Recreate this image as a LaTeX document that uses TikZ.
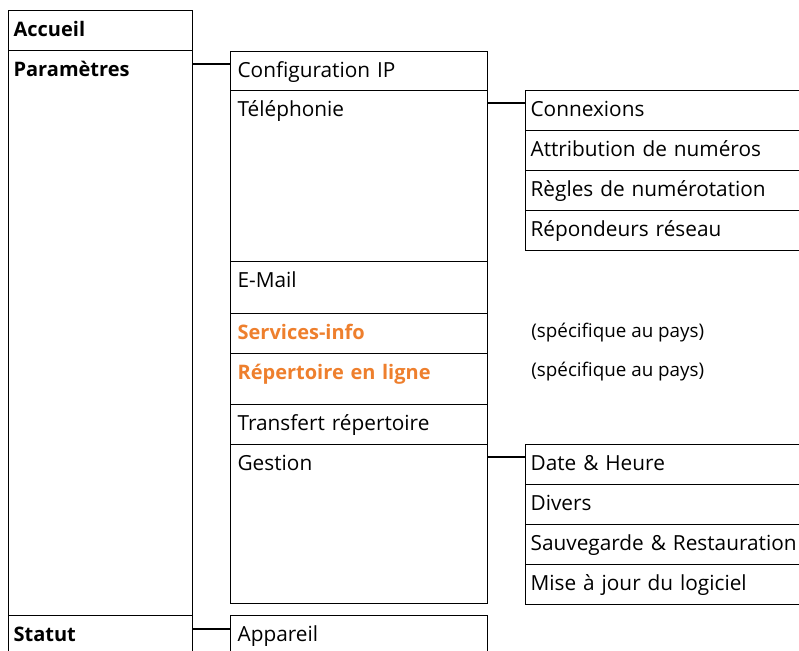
\documentclass[tikz,border=0pt]{standalone}
\usepackage{fontspec}
\setmainfont{Open Sans}
\definecolor{infoorange}{RGB}{238,127,45}
\tikzset{
        entry/.style={draw=black, line width=0.6pt, anchor=north west, inner ysep=0pt, text height=13pt, align=left, font=\fontsize{10.4pt}{12pt}\selectfont},
        col1/.style={entry, inner xsep=2.5pt, text width=87pt, font=\fontsize{10pt}{12pt}\selectfont\bfseries},
        col2/.style={entry, inner xsep=3.5pt, text width=121.5pt},
        col3/.style={entry, inner xsep=2.5pt, text width=135pt, text depth=7pt},
        extra/.style={text=infoorange, font=\fontsize{10pt}{12pt}\selectfont\bfseries},
        note/.style={anchor=base west, inner sep=0pt, font=\fontsize{9.4pt}{11pt}\selectfont},
        link/.style={draw=black, line width=0.6pt}
}
\begin{document}
\begin{tikzpicture}
        \useasboundingbox (0,0) rectangle (399.5pt,-325.5pt);

        \node[col1, text depth=7pt] (accueil) at (4pt,-5pt) {Accueil};
        \node[col1, text depth=269.5pt] (parametres) at (4pt,-25pt) {Paramètres};
        \node[col1, text depth=9pt] (statut) at (4pt,-307.5pt) {Statut};

        \node[col2, text depth=6.5pt] (config_ip) at (115pt,-25.5pt) {Configuration IP};
        \node[col2, text depth=72.5pt] (telephonie) at (115pt,-45pt) {Téléphonie};
        \node[col2, text depth=13pt] (email) at (115pt,-130.5pt) {E-Mail};
        \node[col2, extra, text depth=7pt] (services_info) at (115pt,-156.5pt) {Services-info};
        \node[col2, extra, text depth=12.5pt] (repertoire_ligne) at (115pt,-176.5pt) {Répertoire en ligne};
        \node[col2, text depth=7pt] (transfert) at (115pt,-202pt) {Transfert répertoire};
        \node[col2, text depth=66.5pt] (gestion) at (115pt,-222pt) {Gestion};
        \node[col2, text depth=9pt] (appareil) at (115pt,-307.5pt) {Appareil};

        \node[col3] (connexions) at (262.5pt,-45pt) {Connexions};
        \node[col3] (attribution) at (262.5pt,-65pt) {Attribution de numéros};
        \node[col3] (regles) at (262.5pt,-85pt) {Règles de numérotation};
        \node[col3] (repondeurs) at (262.5pt,-105pt) {Répondeurs réseau};

        \node[col3] (date_heure) at (262.5pt,-222pt) {Date \& Heure};
        \node[col3] (divers) at (262.5pt,-242pt) {Divers};
        \node[col3] (sauvegarde) at (262.5pt,-262pt) {Sauvegarde \& Restauration};
        \node[col3] (mise_a_jour) at (262.5pt,-282pt) {Mise à jour du logiciel};

        \node[note] (note_services) at (265.5pt,-168.75pt) {(spécifique au pays)};
        \node[note] (note_repertoire) at (265.5pt,-188.4pt) {(spécifique au pays)};

        \coordinate (to_config) at ([yshift=-6.5pt]config_ip.north west);
        \coordinate (to_connexions) at ([yshift=-6.5pt]connexions.north west);
        \coordinate (to_date) at ([yshift=-6.5pt]date_heure.north west);
        \coordinate (to_appareil) at ([yshift=-7pt]appareil.north west);

        \draw[link] (parametres.east |- to_config) -- (to_config);
        \draw[link] (telephonie.east |- to_connexions) -- (to_connexions);
        \draw[link] (gestion.east |- to_date) -- (to_date);
        \draw[link] (statut.east |- to_appareil) -- (to_appareil);
\end{tikzpicture}
\end{document}
